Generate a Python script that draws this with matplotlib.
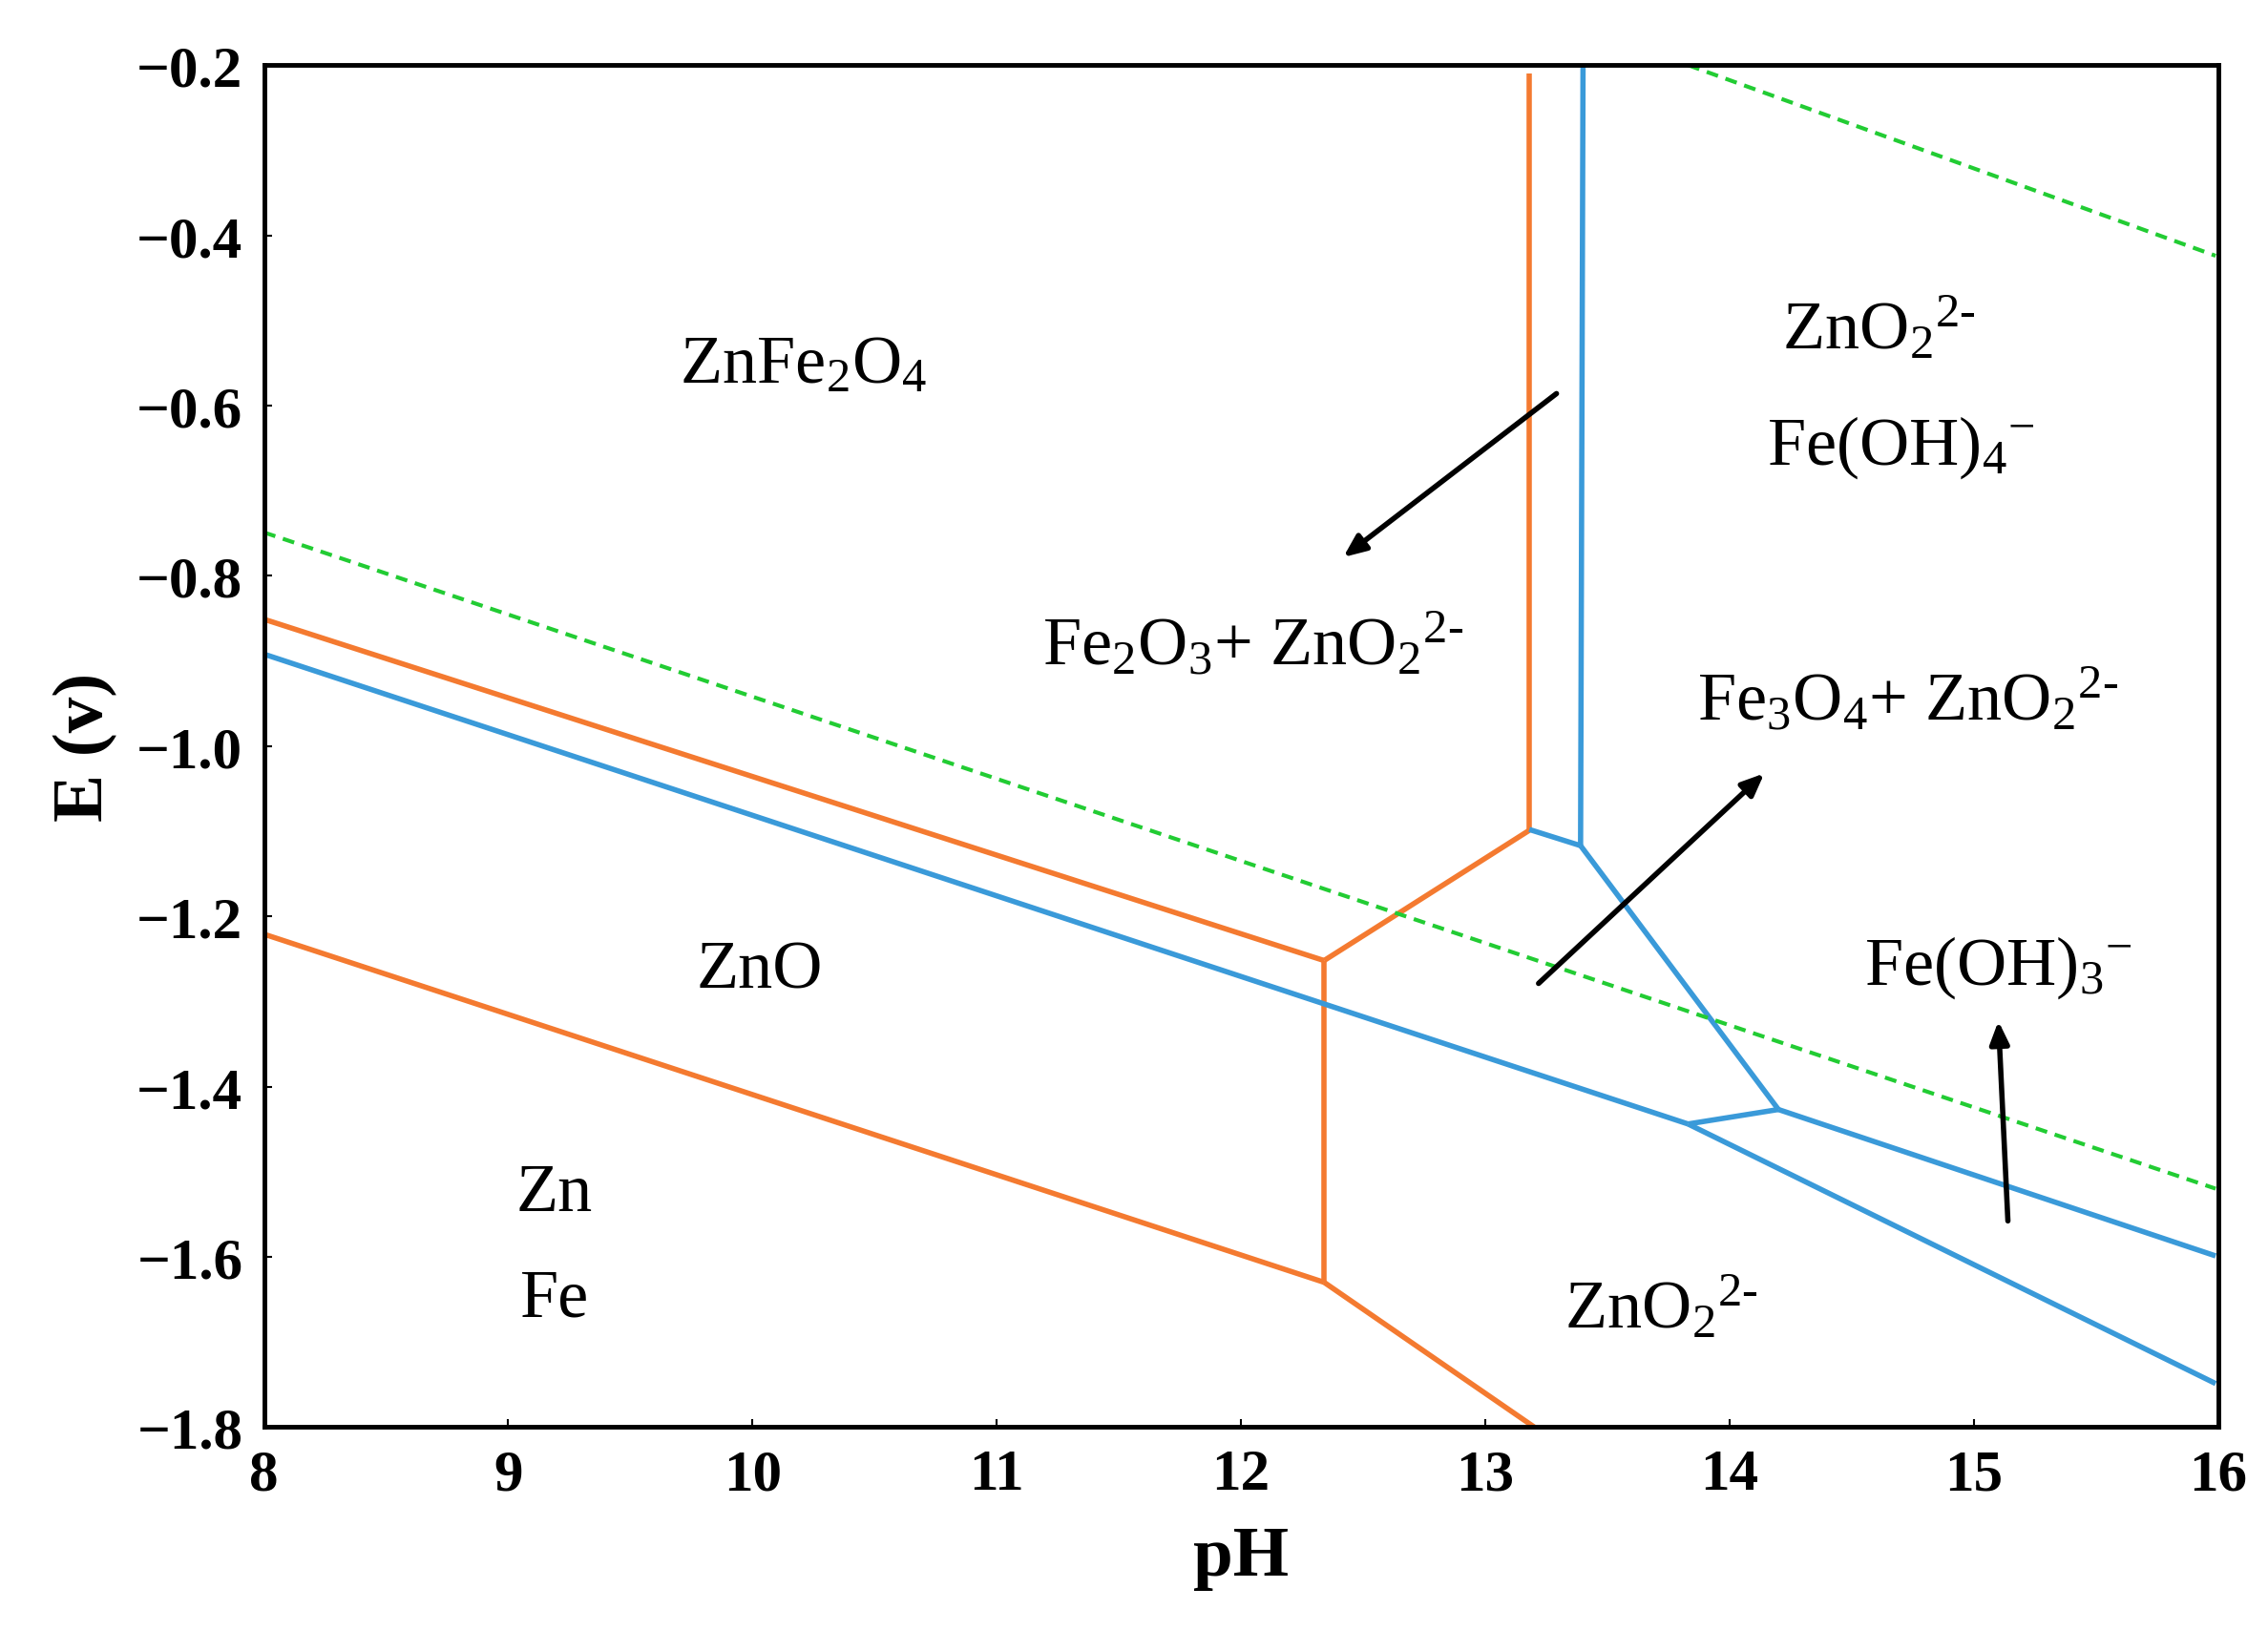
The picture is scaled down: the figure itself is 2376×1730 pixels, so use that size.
import matplotlib
matplotlib.use("Agg")
import matplotlib.pyplot as plt

ORANGE = '#f47a30'
BLUE = '#3a9ad9'
GREEN = '#22cc33'

# boundary segments (pH, E)
orange_lines = [
    ([8.0, 12.34], [-0.851, -1.252]),
    ([12.34, 12.34], [-1.252, -1.630]),
    ([8.0, 12.34], [-1.221, -1.630]),
    ([12.34, 13.20], [-1.630, -1.800]),
    ([12.34, 13.18], [-1.252, -1.099]),
    ([13.18, 13.18], [-1.099, -0.21]),
]
blue_lines = [
    ([8.0, 13.83], [-0.892, -1.444]),
    ([13.83, 14.20], [-1.444, -1.427]),
    ([14.20, 15.99], [-1.427, -1.599]),
    ([13.83, 15.99], [-1.444, -1.749]),
    ([14.20, 13.39], [-1.427, -1.117]),
    ([13.39, 13.18], [-1.117, -1.098]),
    ([13.39, 13.40], [-1.117, -0.20]),
]
green_lines = [
    ([8.0, 15.99], [-0.749, -1.520]),
    ([13.83, 15.99], [-0.200, -0.424]),
]
arrows = [
    ((13.30, -0.584), (12.41, -0.780)),
    ((13.21, -1.281), (14.15, -1.030)),
    ((15.14, -1.561), (15.10, -1.320)),
]
labels = [
    (10.21, -0.553, r'ZnFe$_2$O$_4$'),
    (14.61, -0.51, r'ZnO$_2$$^{2\text{-}}$'),
    (14.70, -0.648, r'Fe(OH)$_4$$^{-}$'),
    (12.05, -0.88, r'Fe$_2$O$_3$+ ZnO$_2$$^{2\text{-}}$'),
    (14.73, -0.945, r'Fe$_3$O$_4$+ ZnO$_2$$^{2\text{-}}$'),
    (10.03, -1.264, 'ZnO'),
    (15.10, -1.259, r'Fe(OH)$_3$$^{-}$'),
    (9.19, -1.525, 'Zn'),
    (9.19, -1.65, 'Fe'),
    (13.72, -1.66, r'ZnO$_2$$^{2\text{-}}$'),
]
x_ticks = [8, 9, 10, 11, 12, 13, 14, 15, 16]
y_ticks = [-1.8, -1.6, -1.4, -1.2, -1.0, -0.8, -0.6, -0.4, -0.2]

plt.rcParams['font.family'] = ['Liberation Serif', 'DejaVu Serif']
plt.rcParams['mathtext.fontset'] = 'custom'
plt.rcParams['mathtext.rm'] = 'Liberation Serif'
plt.rcParams['mathtext.it'] = 'Liberation Serif'

fig = plt.figure(figsize=(23.76, 17.31), dpi=100)
ax = fig.add_axes([0.1164, 0.1356, 0.8616, 0.8244])

for xs, ys in orange_lines:
    ax.plot(xs, ys, color=ORANGE, lw=4, solid_capstyle='butt')
for xs, ys in blue_lines:
    ax.plot(xs, ys, color=BLUE, lw=4, solid_capstyle='butt')
for xs, ys in green_lines:
    ax.plot(xs, ys, color=GREEN, lw=3, ls=(0, (3, 2)))

for (x0, y0), (x1, y1) in arrows:
    ax.annotate('', xy=(x1, y1), xytext=(x0, y0),
                arrowprops=dict(arrowstyle='-|>,head_length=1.4,head_width=0.6',
                                color='black', lw=4))

for x, y, t in labels:
    ax.text(x, y, t, fontsize=52, ha='center', va='center')

ax.set_xlim(8, 16)
ax.set_ylim(-1.8, -0.2)
ax.set_xticks(x_ticks)
ax.set_yticks(y_ticks)
ax.set_xticklabels([str(v) for v in x_ticks], fontweight='bold', fontsize=44)
ax.set_yticklabels([f'\u2212{abs(v):.1f}' for v in y_ticks], fontweight='bold', fontsize=44)
ax.tick_params(direction='in', length=6, width=1.5, pad=16)
for s in ax.spines.values():
    s.set_linewidth(3.5)
ax.set_xlabel('pH', fontsize=54, fontweight='bold', labelpad=18)
ax.set_ylabel('E (v)', fontsize=54, fontweight='bold', labelpad=14)

fig.savefig('out.png', dpi=100)
